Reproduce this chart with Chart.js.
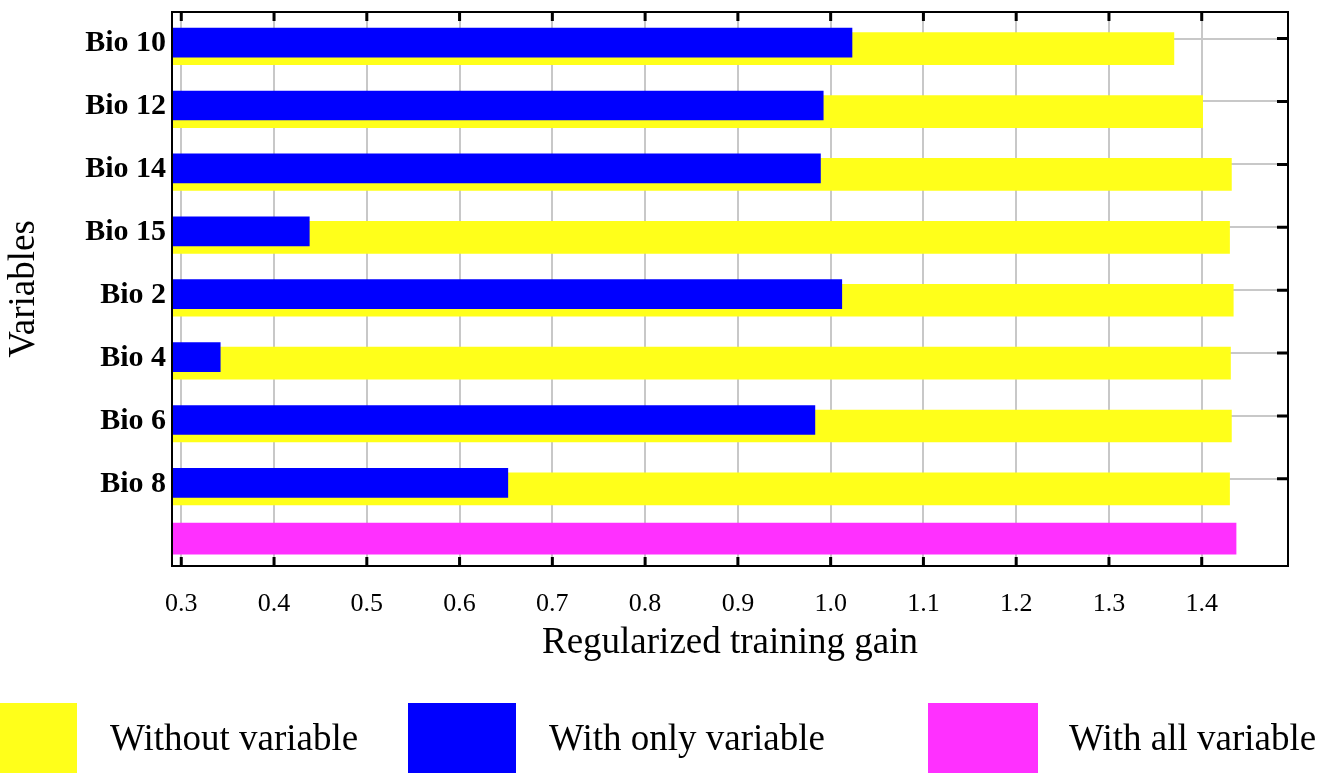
<!DOCTYPE html>
<html lang="en">
<head>
    <meta charset="UTF-8">
    <title>Regularized training gain</title>
    <script src="https://cdn.jsdelivr.net/npm/chart.js"></script>
    <style>
        body {
            margin: 0;
            background: #fff;
        }
        #wrap {
            position: relative;
            width: 1336px;
            height: 773px;
            overflow: hidden;
        }
        #legend {
            position: absolute;
            left: 0;
            top: 703px;
            width: 1336px;
            height: 70px;
            font-family: "Liberation Serif", "Times New Roman", serif;
            font-size: 37px;
            color: #000;
        }
        .item { position: absolute; top: 0; height: 70px; }
        .box { position: absolute; top: 0; left: 0; width: 108px; height: 70px; }
        .txt { position: absolute; top: 0; left: 141px; line-height: 70px; white-space: nowrap; }
        .item:nth-child(1) { left: -31px; }
        .item:nth-child(2) { left: 408px; }
        .item:nth-child(3) { left: 928px; }
        .item:nth-child(3) .box { width: 110px; }
    </style>
</head>
<body>
<div id="wrap">
    <canvas id="gainChart" width="1336" height="773"></canvas>
    <div id="legend"></div>
</div>
<script>
// values
const categories = ['Bio 10', 'Bio 12', 'Bio 14', 'Bio 15', 'Bio 2', 'Bio 4', 'Bio 6', 'Bio 8'];
const withoutVariable = [1.370, 1.401, 1.432, 1.430, 1.434, 1.431, 1.432, 1.430];
const withOnlyVariable = [1.023, 0.992, 0.989, 0.438, 1.012, 0.342, 0.983, 0.652];
const withAllVariable = [1.437];
const xTicks = [0.3, 0.4, 0.5, 0.6, 0.7, 0.8, 0.9, 1.0, 1.1, 1.2, 1.3, 1.4];
const seriesNames = ['Without variable', 'With only variable', 'With all variable'];

const YELLOW = '#ffff1a';
const BLUE = '#0000ff';
const PINK = '#ff30ff';

Chart.defaults.font.family = '"Liberation Serif", "Times New Roman", serif';
Chart.defaults.color = '#000';

// box round the plot with short inward ticks, like the original figure
const framePlugin = {
    id: 'frame',
    afterDraw(chart) {
        const { ctx, chartArea: a, scales: { x, y } } = chart;
        ctx.save();
        ctx.strokeStyle = '#000';
        ctx.lineWidth = 2;
        ctx.strokeRect(a.left, a.top, a.right - a.left, a.bottom - a.top);
        ctx.lineWidth = 3;
        ctx.beginPath();
        x.ticks.forEach(t => {
            const px = x.getPixelForValue(t.value);
            ctx.moveTo(px, a.top); ctx.lineTo(px, a.top + 9);
            ctx.moveTo(px, a.bottom); ctx.lineTo(px, a.bottom - 9);
        });
        y.ticks.forEach(t => {
            const py = y.getPixelForValue(t.value);
            ctx.moveTo(a.right, py); ctx.lineTo(a.right - 11, py);
        });
        ctx.stroke();
        ctx.restore();
    }
};

const chart = new Chart(document.getElementById('gainChart'), {
    type: 'bar',
    data: {
        datasets: [
            {
                label: seriesNames[1],
                data: withOnlyVariable.map((v, i) => ({ x: v, y: i + 0.064 })),
                backgroundColor: BLUE,
                barThickness: 29,
                grouped: false
            },
            {
                label: seriesNames[0],
                data: withoutVariable.map((v, i) => ({ x: v, y: i + 0.16 })),
                backgroundColor: YELLOW,
                barThickness: 32,
                grouped: false
            },
            {
                label: seriesNames[2],
                data: withAllVariable.map(v => ({ x: v, y: categories.length - 0.05 })),
                backgroundColor: PINK,
                barThickness: 31,
                grouped: false
            }
        ]
    },
    options: {
        indexAxis: 'y',
        responsive: false,
        animation: false,
        layout: { padding: { top: 12, right: 48, bottom: 83, left: 0 } },
        plugins: {
            legend: { display: false },
            tooltip: { enabled: false }
        },
        scales: {
            x: {
                type: 'linear',
                min: 0.29,
                max: 1.493,
                afterBuildTicks: s => { s.ticks = xTicks.map(v => ({ value: v })); },
                afterFit: s => { s.height = 124; },
                grid: { color: '#c8c8c8', lineWidth: 2, drawTicks: false },
                border: { display: false },
                ticks: {
                    callback: v => v.toFixed(1),
                    font: { size: 26 },
                    padding: 23,
                    maxRotation: 0
                },
                title: {
                    display: true,
                    text: 'Regularized training gain',
                    font: { size: 37 },
                    padding: { top: 0, bottom: 25 }
                }
            },
            y: {
                type: 'linear',
                reverse: true,
                offset: false,
                min: -0.423,
                max: 8.386,
                afterBuildTicks: s => { s.ticks = categories.map((c, i) => ({ value: i })); },
                afterFit: s => {
                    s.width = 172;
                    // labels sit well inside the plot, no extra room needed
                    s.paddingTop = 0;
                    s.paddingBottom = 0;
                },
                grid: { color: '#c8c8c8', lineWidth: 2, drawTicks: false, offset: false },
                border: { display: false },
                ticks: {
                    callback: v => categories[v],
                    font: { size: 30, weight: 'bold' },
                    padding: 6,
                    labelOffset: 5,
                    autoSkip: false
                },
                title: {
                    display: true,
                    text: 'Variables',
                    font: { size: 37 },
                    padding: { top: 2, bottom: 0 }
                }
            }
        }
    },
    plugins: [framePlugin]
});

// legend below the plot, same order as the original
const legendColors = [YELLOW, BLUE, PINK];
document.getElementById('legend').innerHTML = seriesNames.map((name, i) =>
    '<div class="item"><div class="box" style="background:' + legendColors[i] + '"></div>' +
    '<div class="txt">' + name + '</div></div>'
).join('');
</script>
</body>
</html>
